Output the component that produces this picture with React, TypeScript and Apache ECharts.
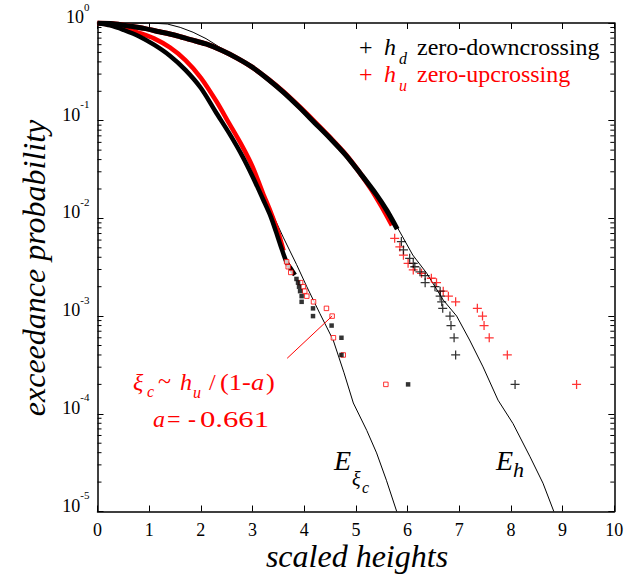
import { useEffect, useRef } from "react";
import * as echarts from "echarts";

const FONT = "Liberation Serif, Times New Roman, serif";
const RED = "#ff0000";
const BLACK = "#000000";

// ---- data ----
// crest heights from zero-downcrossing (black squares): dense part
const crestDownX = [0, 0.25, 0.5, 0.8, 1.1, 1.4, 1.7, 2.0, 2.3, 2.55, 2.8, 3.0, 3.2, 3.35, 3.45, 3.55, 3.66, 3.76, 3.82];
const crestDownP = [1, 0.944, 0.851, 0.733, 0.596, 0.462, 0.331, 0.216, 0.12, 0.0741, 0.0437, 0.0269, 0.0158, 0.0105, 0.00741, 0.00513, 0.00355, 0.00295, 0.00263];
// crest heights from zero-downcrossing: isolated tail points
const crestDownTailX = [3.85, 3.88, 3.9, 3.92, 3.95, 3.95, 4.17, 4.17, 4.53, 4.72, 4.72, 6.01];
const crestDownTailP = [0.0024, 0.0022, 0.002, 0.0018, 0.0016, 0.0014, 0.0012, 0.001, 0.0008, 0.0006, 0.0004, 0.0002];

// crest estimated from h_u / (1-a) (red open squares): dense part and tail
const crestUpX = [0, 0.25, 0.5, 0.8, 1.1, 1.4, 1.7, 2.0, 2.3, 2.55, 2.8, 3.0, 3.2, 3.35, 3.5, 3.6];
const crestUpP = [1, 0.955, 0.891, 0.794, 0.692, 0.562, 0.417, 0.275, 0.158, 0.0933, 0.055, 0.0339, 0.0182, 0.0117, 0.00708, 0.00468];
const crestUpTailX = [3.66, 3.69, 3.74, 3.93, 3.98, 4.01, 4.05, 4.18, 4.43, 4.54, 4.565, 4.755, 5.58];
const crestUpTailP = [0.0036, 0.0032, 0.0028, 0.0022, 0.002, 0.0018, 0.0016, 0.0014, 0.0012, 0.001, 0.0006, 0.0004, 0.0002];

// wave heights h_d (black +): dense part and tail
const hDownX = [0, 0.3, 0.6, 0.9, 1.2, 1.5, 1.8, 2.1, 2.4, 2.7, 3.0, 3.3, 3.6, 3.9, 4.2, 4.5, 4.8, 5.1, 5.4, 5.6, 5.8];
const hDownP = [1, 0.982, 0.933, 0.881, 0.813, 0.75, 0.676, 0.61, 0.525, 0.437, 0.351, 0.266, 0.195, 0.138, 0.0955, 0.0661, 0.0447, 0.0282, 0.0174, 0.012, 0.00776];
const hDownTailX = [5.88, 5.92, 6.04, 6.11, 6.14, 6.24, 6.34, 6.34, 6.53, 6.63, 6.63, 6.66, 6.68, 6.82, 6.84, 6.9, 6.93, 8.08];
const hDownTailP = [0.0058, 0.00475, 0.0039, 0.00347, 0.0032, 0.00284, 0.0026, 0.0022, 0.002, 0.0018, 0.0016, 0.0014, 0.0012, 0.001, 0.0008, 0.0006, 0.0004, 0.0002];

// wave heights h_u (red +): dense part and tail
const hUpX = [0, 0.3, 0.6, 0.9, 1.2, 1.5, 1.8, 2.1, 2.4, 2.7, 3.0, 3.3, 3.6, 3.9, 4.2, 4.5, 4.8, 5.1, 5.3, 5.5, 5.7];
const hUpP = [1, 0.982, 0.933, 0.881, 0.813, 0.75, 0.676, 0.61, 0.525, 0.437, 0.351, 0.267, 0.197, 0.14, 0.0975, 0.0672, 0.0452, 0.0282, 0.0198, 0.0132, 0.0085];
const hUpTailX = [5.75, 5.85, 5.92, 6.01, 6.11, 6.27, 6.46, 6.56, 6.69, 6.79, 6.93, 7.35, 7.45, 7.48, 7.58, 7.93, 9.27];
const hUpTailP = [0.00625, 0.0051, 0.0042, 0.00347, 0.00297, 0.00274, 0.00244, 0.0022, 0.0018, 0.0016, 0.0014, 0.0012, 0.001, 0.0008, 0.0006, 0.0004, 0.0002];

// theoretical exceedance curves
const ehX = [0, 1.0, 1.35, 1.6, 1.85, 2.1, 2.4, 2.7, 3.0, 3.3, 3.6, 3.9, 4.2, 4.5, 4.8, 5.1, 5.4, 5.6, 5.8, 6.1, 6.37, 6.69, 6.95, 7.2, 7.46, 7.75, 8.04, 8.37, 8.62, 8.83];
const ehP = [1, 1, 0.977, 0.902, 0.804, 0.692, 0.55, 0.437, 0.351, 0.266, 0.195, 0.138, 0.0955, 0.0661, 0.0447, 0.0282, 0.0174, 0.012, 0.00813, 0.00422, 0.00275, 0.00146, 0.001, 0.000569, 0.000302, 0.000138, 0.0000794, 0.0000363, 0.0000195, 0.00001];
const exiX = [0, 0.25, 0.5, 0.8, 1.1, 1.4, 1.7, 2.0, 2.3, 2.55, 2.8, 3.0, 3.2, 3.4, 3.6, 3.85, 4.05, 4.3, 4.56, 4.77, 4.95, 5.21, 5.4, 5.59, 5.79];
const exiP = [1, 0.944, 0.851, 0.733, 0.596, 0.462, 0.331, 0.216, 0.12, 0.0741, 0.0437, 0.0269, 0.0158, 0.0107, 0.00631, 0.00339, 0.002, 0.00107, 0.000569, 0.000263, 0.000129, 0.0000676, 0.0000398, 0.0000209, 0.00001];

// annotation pointer (data coordinates)
const pointerX = [3.67, 4.54];
const pointerP = [0.00037, 0.001];

// axes
const xMin = 0, xMax = 10, xStep = 1;
const yMin = 1e-5, yMax = 1;
const minorMantissas = [2, 3, 4, 5, 6, 7, 8, 9];
const minorDecades = [-5, -4, -3, -2, -1];

const zip = (xs: number[], ps: number[]) => xs.map((x, i) => [x, ps[i]]);

const PLUS = "path://M4.3,0H5.7V4.3H10V5.7H5.7V10H4.3V5.7H0V4.3H4.3Z";

export default function App() {
  const ref = useRef<HTMLDivElement>(null);
  useEffect(() => {
    if (!ref.current) return;
    const chart = echarts.init(ref.current, undefined, { renderer: "svg" });
    const minorTicks: number[][] = [];
    minorDecades.forEach((d) => minorMantissas.forEach((m) => minorTicks.push([0, m * Math.pow(10, d)])));

    const axisLineStyle = { color: BLACK, width: 1.5 };
    const tickStyle = { color: BLACK, width: 1 };
    const t = (text: string, x: number, y: number, size: number, color: string, italic = false, align = "left", rotation = 0, scaleX = 1) => ({
      type: "text",
      x,
      y,
      rotation,
      scaleX,
      silent: true,
      style: {
        text,
        fill: color,
        font: `${italic ? "italic " : ""}${size}px ${FONT}`,
        align,
        verticalAlign: "middle",
      },
    });

    chart.setOption({
      animation: false,
      backgroundColor: "#ffffff",
      textStyle: { fontFamily: FONT },
      grid: { left: 97.5, top: 23, right: 28.7, bottom: 66.5, containLabel: false, outerBoundsMode: "none" },
      xAxis: [
        {
          type: "value", min: xMin, max: xMax, interval: xStep, position: "bottom",
          axisLine: { show: true, onZero: false, lineStyle: axisLineStyle },
          axisTick: { show: true, inside: true, length: 6, lineStyle: tickStyle },
          axisLabel: { color: BLACK, fontFamily: FONT, fontSize: 18, margin: 9 },
          splitLine: { show: false },
        },
        {
          type: "value", min: xMin, max: xMax, interval: xStep, position: "top",
          axisLine: { show: true, onZero: false, lineStyle: axisLineStyle },
          axisTick: { show: true, inside: true, length: 6, lineStyle: tickStyle },
          axisLabel: { show: false },
          splitLine: { show: false },
        },
      ],
      yAxis: [
        {
          type: "log", logBase: 10, min: yMin, max: yMax, position: "left",
          axisLine: { show: true, onZero: false, lineStyle: axisLineStyle },
          axisTick: { show: true, inside: true, length: 6, lineStyle: tickStyle },
          splitLine: { show: false },
          axisLabel: {
            margin: 8,
            fontFamily: FONT,
            formatter: (v: number) => `{b|10}{s|${Math.round(Math.log10(v))}}`,
            rich: {
              b: { fontFamily: FONT, fontSize: 18, lineHeight: 18, color: BLACK, verticalAlign: "bottom", padding: [0, 0, 6, 0] },
              s: { fontFamily: FONT, fontSize: 11, lineHeight: 11, color: BLACK, verticalAlign: "bottom", padding: [0, 0, 20, 0] },
            },
          },
        },
        {
          type: "log", logBase: 10, min: yMin, max: yMax, position: "right",
          axisLine: { show: true, onZero: false, lineStyle: axisLineStyle },
          axisTick: { show: true, inside: true, length: 6, lineStyle: tickStyle },
          axisLabel: { show: false },
          splitLine: { show: false },
        },
      ],
      series: [
        {
          type: "custom", name: "minor ticks", silent: true, data: minorTicks, z: 10,
          renderItem: (params: any, api: any) => {
            const p = api.coord([0, api.value(1)]);
            const cs = params.coordSys;
            return {
              type: "group",
              children: [
                { type: "line", shape: { x1: cs.x, y1: p[1], x2: cs.x + 4, y2: p[1] }, style: { stroke: BLACK, lineWidth: 1 } },
                { type: "line", shape: { x1: cs.x + cs.width - 4, y1: p[1], x2: cs.x + cs.width, y2: p[1] }, style: { stroke: BLACK, lineWidth: 1 } },
              ],
            };
          },
        },
        { type: "line", name: "E_h", data: zip(ehX, ehP), showSymbol: false, lineStyle: { color: BLACK, width: 1 }, z: 1 },
        { type: "line", name: "E_xi", data: zip(exiX, exiP), showSymbol: false, lineStyle: { color: BLACK, width: 1 }, z: 1 },
        { type: "line", name: "h_u dense", data: zip(hUpX, hUpP), smooth: 0.3, showSymbol: false, lineStyle: { color: RED, width: 5 }, z: 2 },
        { type: "line", name: "h_d dense", data: zip(hDownX, hDownP), smooth: 0.3, showSymbol: false, lineStyle: { color: BLACK, width: 5 }, z: 3 },
        { type: "line", name: "crest u dense", data: zip(crestUpX, crestUpP), smooth: 0.3, showSymbol: false, lineStyle: { color: RED, width: 4.5 }, z: 2 },
        { type: "line", name: "crest d dense", data: zip(crestDownX, crestDownP), smooth: 0.3, showSymbol: false, lineStyle: { color: BLACK, width: 4.5 }, z: 3 },
        { type: "scatter", name: "h_u", data: zip(hUpTailX, hUpTailP), symbol: PLUS, symbolSize: 9, itemStyle: { color: RED }, z: 4 },
        { type: "scatter", name: "h_d", data: zip(hDownTailX, hDownTailP), symbol: PLUS, symbolSize: 9, itemStyle: { color: BLACK }, z: 5 },
        { type: "scatter", name: "crest u", data: zip(crestUpTailX, crestUpTailP), symbol: "rect", symbolSize: 4.5, itemStyle: { color: "#ffffff", borderColor: RED, borderWidth: 1 }, z: 4 },
        { type: "scatter", name: "crest d", data: zip(crestDownTailX, crestDownTailP), symbol: "rect", symbolSize: 4.5, itemStyle: { color: BLACK }, z: 5 },
        { type: "line", name: "pointer", data: zip(pointerX, pointerP), showSymbol: false, lineStyle: { color: RED, width: 1 }, z: 6 },
      ],
      graphic: [
        // axis names
        t("exceedance probability", 34, 268, 32, BLACK, true, "center", Math.PI / 2),
        t("scaled heights", 357, 556, 32, BLACK, true, "center"),
        // legend
        t("+", 359, 47, 24, BLACK),
        t("h", 384, 47, 24, BLACK, true),
        t("d", 399, 58, 16, BLACK, true),
        t("zero-downcrossing", 417, 47, 24, BLACK),
        t("+", 359, 74, 24, RED),
        t("h", 384, 74, 24, RED, true),
        t("u", 399, 85, 16, RED, true),
        t("zero-upcrossing", 417, 74, 24, RED),
        // annotation
        t("ξ", 133, 382, 24, RED, true),
        t("c", 147, 391, 16, RED, true),
        t("~", 158, 381, 24, RED),
        t("h", 180, 382, 24, RED, true),
        t("u", 193, 392, 16, RED, true),
        t("/", 209, 382, 24, RED),
        t("(1-", 220, 382, 24, RED, false, "left", 0, 1.1),
        t("a", 251, 382, 24, RED, true, "left", 0, 1.1),
        t(")", 266, 382, 24, RED, false, "left", 0, 1.1),
        t("a", 153, 419, 24, RED, true),
        t("=", 167, 419, 24, RED),
        t("-", 188, 419, 24, RED),
        t("0.661", 200, 419, 24, RED, false, "left", 0, 1.28),
        // curve labels
        t("E", 334, 460, 28, BLACK, true),
        t("ξ", 352, 479, 20, BLACK, true),
        t("c", 362, 487, 16, BLACK, true),
        t("E", 496, 460, 28, BLACK, true),
        t("h", 513, 469, 22, BLACK, true),
      ],
    });
    return () => chart.dispose();
  }, []);
  return <div ref={ref} style={{ position: "fixed", left: 0, top: 0, width: 643, height: 578, background: "#fff" }} />;
}
